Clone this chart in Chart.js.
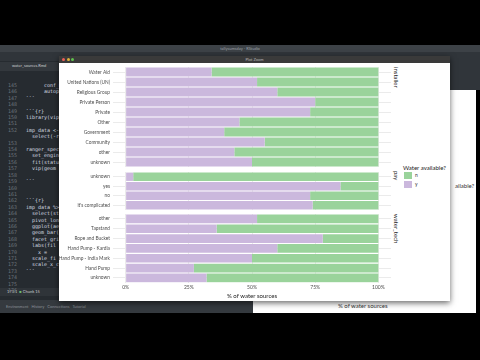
<!DOCTYPE html>
<html>
<head>
<meta charset="utf-8">
<script src="https://cdn.jsdelivr.net/npm/chart.js@4"></script>
<style>
  html, body { margin: 0; padding: 0; }
  body { width: 480px; height: 360px; background: #000; position: relative; overflow: hidden; font-family: Lato, sans-serif; }
  .abs { position: absolute; }
  .code { position: absolute; font-family: "DejaVu Sans Mono", monospace; font-size: 5px; line-height: 6.4px; white-space: pre; }
  .facet { position: absolute; writing-mode: vertical-rl; font-size: 6px; color: #1a1a1a; }
  canvas { position: absolute; }
</style>
</head>
<body>
<!-- rstudio backdrop -->
<div class="abs" style="left:0;top:45px;width:480px;height:7px;background:#3d4247;"></div>
<div class="abs" style="left:0;top:45px;width:480px;height:7px;font-size:4px;color:#9aa0a6;text-align:center;line-height:7px;">tallysumsday - RStudio</div>
<div class="abs" style="left:0;top:52px;width:480px;height:9px;background:#30353a;"></div>
<div class="abs" style="left:0;top:61px;width:253px;height:252px;background:#262b30;"></div>
<div class="abs" style="left:253px;top:61px;width:227px;height:29px;background:#30353a;"></div>
<div class="abs" style="left:253px;top:90px;width:223px;height:223px;background:#fff;"></div>
<div class="abs" style="left:455px;top:182px;font-size:6px;color:#333;">ailable?</div>
<div class="abs" style="left:338px;top:302px;font-size:6px;color:#333;">% of water sources</div>
<div class="abs" style="left:0;top:300px;width:253px;height:13px;background:#353a3f;"></div>
<div class="abs" style="left:6px;top:304px;font-size:4px;color:#8a9096;">Environment &nbsp; History &nbsp; Connections &nbsp; Tutorial</div>
<div class="abs" style="left:0;top:288px;width:60px;height:8px;background:#2f3439;"></div>
<div class="abs" style="left:7px;top:289px;font-size:4px;color:#c8ccd0;">173:1 &nbsp;<span style="color:#6fbf73">&#9632;</span> Chunk 15</div>
<div class="abs" style="left:0;top:62px;width:60px;height:9px;background:#33383d;"></div>
<div class="abs" style="left:12px;top:63px;font-size:4px;color:#c8ccd0;">water_sources.Rmd</div>
<div class="code" style="left:8px;top:82px;color:#6c737a;">145
146
147
148
149
150
151
152

153
154
155
156
157
158
159
160
161
162
163
164
165
166
167
168
169
170
171
172
173
174
175
176</div>
<div class="code" style="left:26px;top:82px;color:#d8dde2;">      conf_mat
      autoplot
```

```{r}
library(vip)

imp_data &lt;- 
  select(-row_i

ranger_spec %
  set_engin
  fit(statu
  vip(geom

```


```{r}
imp_data %&gt;%
  select(st
  pivot_lon
  ggplot(ae
  geom_bar(
  facet_gri
  labs(fil
    x = 
  scale_fi
  scale_x_c
```</div>

<!-- plot zoom window -->
<div class="abs" style="left:59px;top:56px;width:391px;height:245px;background:#fff;box-shadow:0 2px 6px rgba(0,0,0,0.6);"></div>
<div class="abs" style="left:59px;top:56px;width:391px;height:7px;background:#3a3a3a;"></div>
<div class="abs" style="left:62px;top:58px;width:3px;height:3px;border-radius:50%;background:#ec5f57;"></div>
<div class="abs" style="left:66.5px;top:58px;width:3px;height:3px;border-radius:50%;background:#e0b33a;"></div>
<div class="abs" style="left:71px;top:58px;width:3px;height:3px;border-radius:50%;background:#5fc24f;"></div>
<div class="abs" style="left:59px;top:56px;width:391px;height:7px;font-size:4px;color:#b5b5b5;text-align:center;line-height:7px;">Plot Zoom</div>

<canvas id="installerChart" width="339" height="100" style="left:52px;top:67px;"></canvas>
<canvas id="payChart" width="339" height="38" style="left:52px;top:172px;"></canvas>
<canvas id="techChart" width="339" height="86" style="left:52px;top:214px;"></canvas>

<div class="facet" style="left:393px;top:67px;">installer</div>
<div class="facet" style="left:393px;top:171px;">pay</div>
<div class="facet" style="left:393px;top:214px;">water_tech</div>

<div class="abs" style="left:403px;top:164px;font-size:6px;color:#1a1a1a;">Water available?</div>
<div class="abs" style="left:404px;top:172px;width:8px;height:7px;background:#9ad39b;"></div>
<div class="abs" style="left:415px;top:172px;font-size:5px;line-height:7px;color:#333;">n</div>
<div class="abs" style="left:404px;top:181px;width:8px;height:7px;background:#cbb8dd;"></div>
<div class="abs" style="left:415px;top:181px;font-size:5px;line-height:7px;color:#333;">y</div>

<script>
// categories per facet (top to bottom)
const installerLabels = ['Water Aid', 'United Nations (UN)', 'Religious Group', 'Private Person', 'Private', 'Other', 'Government', 'Community', 'other', 'unknown'];
const payLabels = ['unknown', 'yes', 'no', "it's complicated"];
const techLabels = ['other', 'Tapstand', 'Rope and Bucket', 'Hand Pump - Kardia', 'Hand Pump - India Mark', 'Hand Pump', 'unknown'];

// % of water sources with water available (y) / not available (n)
const installerY = [34, 52, 60, 75, 73, 45, 39, 55, 43, 50];
const installerN = [66, 48, 40, 25, 27, 55, 61, 45, 57, 50];
const payY = [3, 85, 73, 74];
const payN = [97, 15, 27, 26];
const techY = [52, 36, 78, 60, 50, 27, 32];
const techN = [48, 64, 22, 40, 50, 73, 68];

const xTicks = [0, 25, 50, 75, 100];

const GREEN = '#9ad39b';
const PURPLE = '#cbb8dd';
const GRID = '#ebebeb';

function makeChart(id, labels, yVals, nVals, showAxis) {
    new Chart(document.getElementById(id), {
        type: 'bar',
        data: {
            labels: labels,
            datasets: [
                { label: 'y', data: yVals, backgroundColor: PURPLE, barPercentage: 0.88, categoryPercentage: 1 },
                { label: 'n', data: nVals, backgroundColor: GREEN, barPercentage: 0.88, categoryPercentage: 1 }
            ]
        },
        options: {
            indexAxis: 'y',
            responsive: false,
            animation: false,
            layout: { padding: 0 },
            plugins: { legend: { display: false }, tooltip: { enabled: false } },
            scales: {
                x: {
                    stacked: true,
                    min: -5,
                    max: 105,
                    afterBuildTicks: axis => { axis.ticks = xTicks.map(v => ({ value: v })); },
                    afterFit: axis => {
                        if (!showAxis) axis.height = 0;
                        axis.paddingLeft = 0;
                        axis.paddingRight = 0;
                    },
                    grid: { color: GRID, drawTicks: false },
                    border: { display: false },
                    ticks: {
                        display: showAxis,
                        padding: 2,
                        color: '#4d4d4d',
                        font: { size: 5, family: 'Lato' },
                        callback: v => v + '%'
                    },
                    title: {
                        display: showAxis,
                        text: '% of water sources',
                        color: '#1a1a1a',
                        padding: { top: 0, bottom: 0 },
                        font: { size: 6, family: 'Lato' }
                    }
                },
                y: {
                    stacked: true,
                    afterFit: axis => {
                        axis.width = 61;
                        axis.paddingTop = 0;
                        axis.paddingBottom = 0;
                    },
                    grid: { color: GRID, offset: false, drawTicks: false },
                    border: { display: false },
                    ticks: {
                        autoSkip: false,
                        padding: 3,
                        color: '#4d4d4d',
                        font: { size: 4.8, family: 'Lato' }
                    }
                }
            }
        }
    });
}

makeChart('installerChart', installerLabels, installerY, installerN, false);
makeChart('payChart', payLabels, payY, payN, false);
makeChart('techChart', techLabels, techY, techN, true);
</script>
</body>
</html>
